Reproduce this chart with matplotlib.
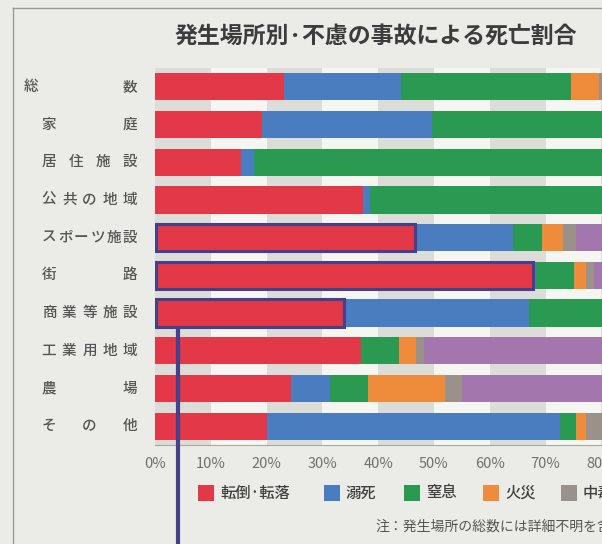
import matplotlib.pyplot as plt
import matplotlib.transforms as mtransforms
from matplotlib.patches import Rectangle

plt.rcParams['font.family'] = ['Noto Sans CJK JP', 'DejaVu Sans']

# データ（%）
places = ["総数", "家庭", "居住施設", "公共の地域", "スポーツ施設",
          "街路", "商業等施設", "工業用地域", "農場", "その他"]
causes = ["転倒·転落", "溺死", "窒息", "火災", "中毒", "その他"]
tentou = [23.2, 19.1, 15.5, 37.2, 46.6, 67.7, 33.8, 36.9, 24.4, 20.1]
dekishi = [20.9, 30.5, 2.2, 1.3, 17.6, 0.5, 33.3, 0.0, 6.9, 52.5]
chissoku = [30.5, 37.0, 75.0, 50.0, 5.2, 6.8, 20.0, 6.9, 6.9, 2.9]
kasai = [5.0, 6.0, 2.0, 2.0, 3.8, 2.2, 3.0, 3.0, 13.7, 1.8]
chudoku = [1.5, 2.0, 1.0, 1.5, 2.3, 1.4, 1.0, 1.4, 3.1, 3.0]
sonota = [100 - a - b - c - d - e for a, b, c, d, e in
          zip(tentou, dekishi, chissoku, kasai, chudoku)]
series = [tentou, dekishi, chissoku, kasai, chudoku, sonota]
colors = ["#e23848", "#4a7cc0", "#2a9a52", "#ee8c3c", "#9a918a", "#a476ae"]
xticks = [0, 10, 20, 30, 40, 50, 60, 70, 80]
marked = [4, 5, 6]  # 囲みのある行

bg = "#ebebe7"
fig = plt.figure(figsize=(6.02, 5.44), dpi=100, facecolor=bg)
ax = fig.add_axes([155 / 602, 1 - 445 / 544, 1 - 155 / 602, (445 - 68) / 544])
ax.set_facecolor(bg)

# 背景の帯
for i in range(0, 100, 10):
    ax.axvspan(i, i + 10, color="#f5f5f2" if (i // 10) % 2 else "#dcdcd8", zorder=0, lw=0)

y = list(range(len(places)))
left = [0.0] * len(places)
for vals, c in zip(series, colors):
    ax.barh(y, vals, left=left, height=0.72, color=c, lw=0, zorder=2)
    left = [l + v for l, v in zip(left, vals)]

# 囲み
navy = "#45408a"
for r in marked:
    ax.add_patch(Rectangle((0.2, r - 0.36), tentou[r] - 0.2, 0.72, fill=False,
                           ec=navy, lw=2.2, zorder=3))
ax.vlines(4.1, marked[-1] + 0.36, 13, color=navy, lw=3, clip_on=False, zorder=4)

ax.set_xlim(0, 80.1)
ax.set_ylim(9.5, -0.5)
ax.set_xticks(xticks)
ax.set_xticklabels([f"{t}%" for t in xticks], fontsize=10.5, color="#707070")
ax.tick_params(axis="x", length=0, pad=9)
ax.set_yticks([])
for s in ["top", "right", "left"]:
    ax.spines[s].set_visible(False)
ax.spines["bottom"].set_color("#a8aaa0")

# 行ラベル（均等割り）
tr = mtransforms.blended_transform_factory(fig.transFigure, ax.transData)
for i, name in enumerate(places):
    x0 = 31 if i == 0 else 49
    x1 = 130
    n = len(name)
    for k, ch in enumerate(name):
        xx = x0 + (x1 - x0) * k / (n - 1)
        ax.text(xx / 602, i, ch, transform=tr, ha="center", va="center",
                fontsize=10.5, fontweight="medium", color="#555555")

fig.text(376 / 602, 1 - 36 / 544, "発生場所別·不慮の事故による死亡割合",
         ha="center", va="center", fontsize=16.5, fontweight="bold", color="#3c3c3c")

# 凡例
legx = [198, 324, 404, 483, 561, 640]
ly = 1 - 493 / 544
for lx, c, lab in zip(legx, colors, causes):
    fig.patches.append(Rectangle((lx / 602, ly - 8 / 544), 16 / 602, 16 / 544,
                                 transform=fig.transFigure, color=c, lw=0))
    fig.text((lx + 22) / 602, ly, lab, ha="left", va="center", fontsize=11,
             fontweight="medium", color="#404040")

fig.text(375 / 602, 1 - 527 / 544, "注：発生場所の総数には詳細不明を含む",
         ha="left", va="center", fontsize=10, color="#555555")

# 枠線
fig.add_artist(plt.Line2D([13 / 602, 13 / 602], [0, 1 - 8 / 544], color="#9a9a96", lw=1))
fig.add_artist(plt.Line2D([13 / 602, 1], [1 - 8 / 544, 1 - 8 / 544], color="#9a9a96", lw=1))

fig.savefig("out.png", dpi=100, facecolor=bg)
